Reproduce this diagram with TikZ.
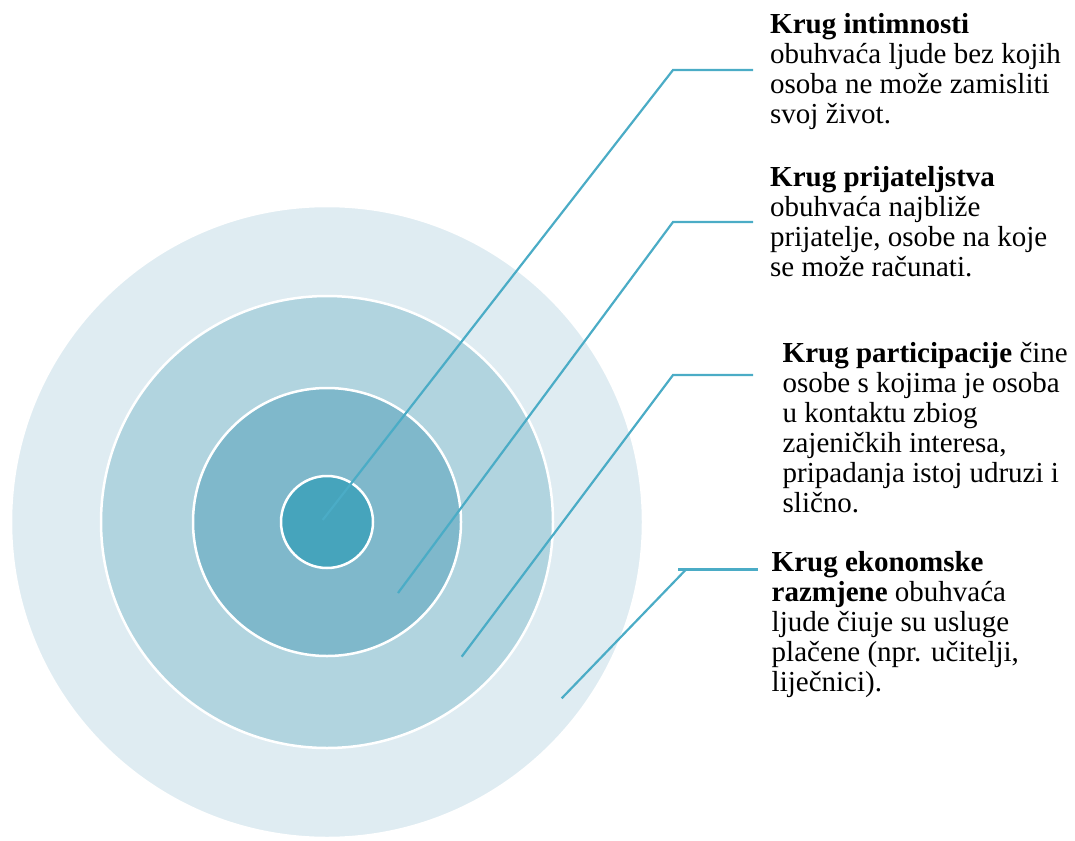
\documentclass[tikz,border=0pt]{standalone}
\usepackage{fontspec}
\setmainfont{Liberation Serif}
\definecolor{ringA}{HTML}{DFECF2}
\definecolor{ringB}{HTML}{B1D4DF}
\definecolor{ringC}{HTML}{7FB8CB}
\definecolor{ringD}{HTML}{46A4BC}
\definecolor{leader}{HTML}{4BACC6}
\begin{document}
\begin{tikzpicture}[x=1pt,y=-1pt,
  ring/.style={circle,draw=white,line width=2.5pt,inner sep=0pt},
  lead/.style={draw=leader,line width=2.2pt},
  desc/.style={anchor=base west,inner sep=0pt,align=left,
    font=\fontsize{29}{30}\selectfont}]
\useasboundingbox (0,0) rectangle (1075,840);
% circles
\node[ring,fill=ringA,minimum size=632pt] (c4) at (327,522) {};
\node[ring,fill=ringB,minimum size=452pt] (c3) at (327,522) {};
\node[ring,fill=ringC,minimum size=268pt] (c2) at (327,522) {};
\node[ring,fill=ringD,minimum size=92pt]  (c1) at (327,522) {};
% texts (anchored at the baseline of the last line)
\node[desc] (t1) at (770,124) {\textbf{Krug intimnosti}\\obuhvaća ljude bez kojih\\osoba ne može zamisliti\\svoj život.};
\node[desc] (t2) at (770,276) {\textbf{Krug prijateljstva}\\obuhvaća najbliže\\prijatelje, osobe na koje\\se može računati.};
\node[desc] (t3) at (782.5,512.5) {\textbf{Krug participacije} čine\\osobe s kojima je osoba\\u kontaktu zbiog\\zajeničkih interesa,\\pripadanja istoj udruzi i\\slično.};
\node[desc] (t4) at (771.5,691.5) {\textbf{Krug ekonomske}\\\textbf{razmjene} obuhvaća\\ljude čiuje su usluge\\plačene (npr. učitelji,\\liječnici).};
% leader coordinates
\coordinate (a1) at (322.7,520);
\coordinate (k1) at (673,70);
\coordinate (e1) at (753,70);
\coordinate (a2) at (398,593);
\coordinate (k2) at (673,222);
\coordinate (e2) at (753,222);
\coordinate (a3) at (461.7,656.7);
\coordinate (k3) at (673,375);
\coordinate (e3) at (753,375);
\coordinate (a4) at (561.7,698.3);
\coordinate (k4) at (686,569.5);
\coordinate (s4) at (678,569.5);
\coordinate (e4) at (757.5,569.5);
% leaders
\draw[lead] (a1) -- (k1) -- (e1);
\draw[lead] (a2) -- (k2) -- (e2);
\draw[lead] (a3) -- (k3) -- (e3);
\draw[lead] (a4) -- (k4);
\draw[lead] (s4) -- (e4);
\end{tikzpicture}
\end{document}
